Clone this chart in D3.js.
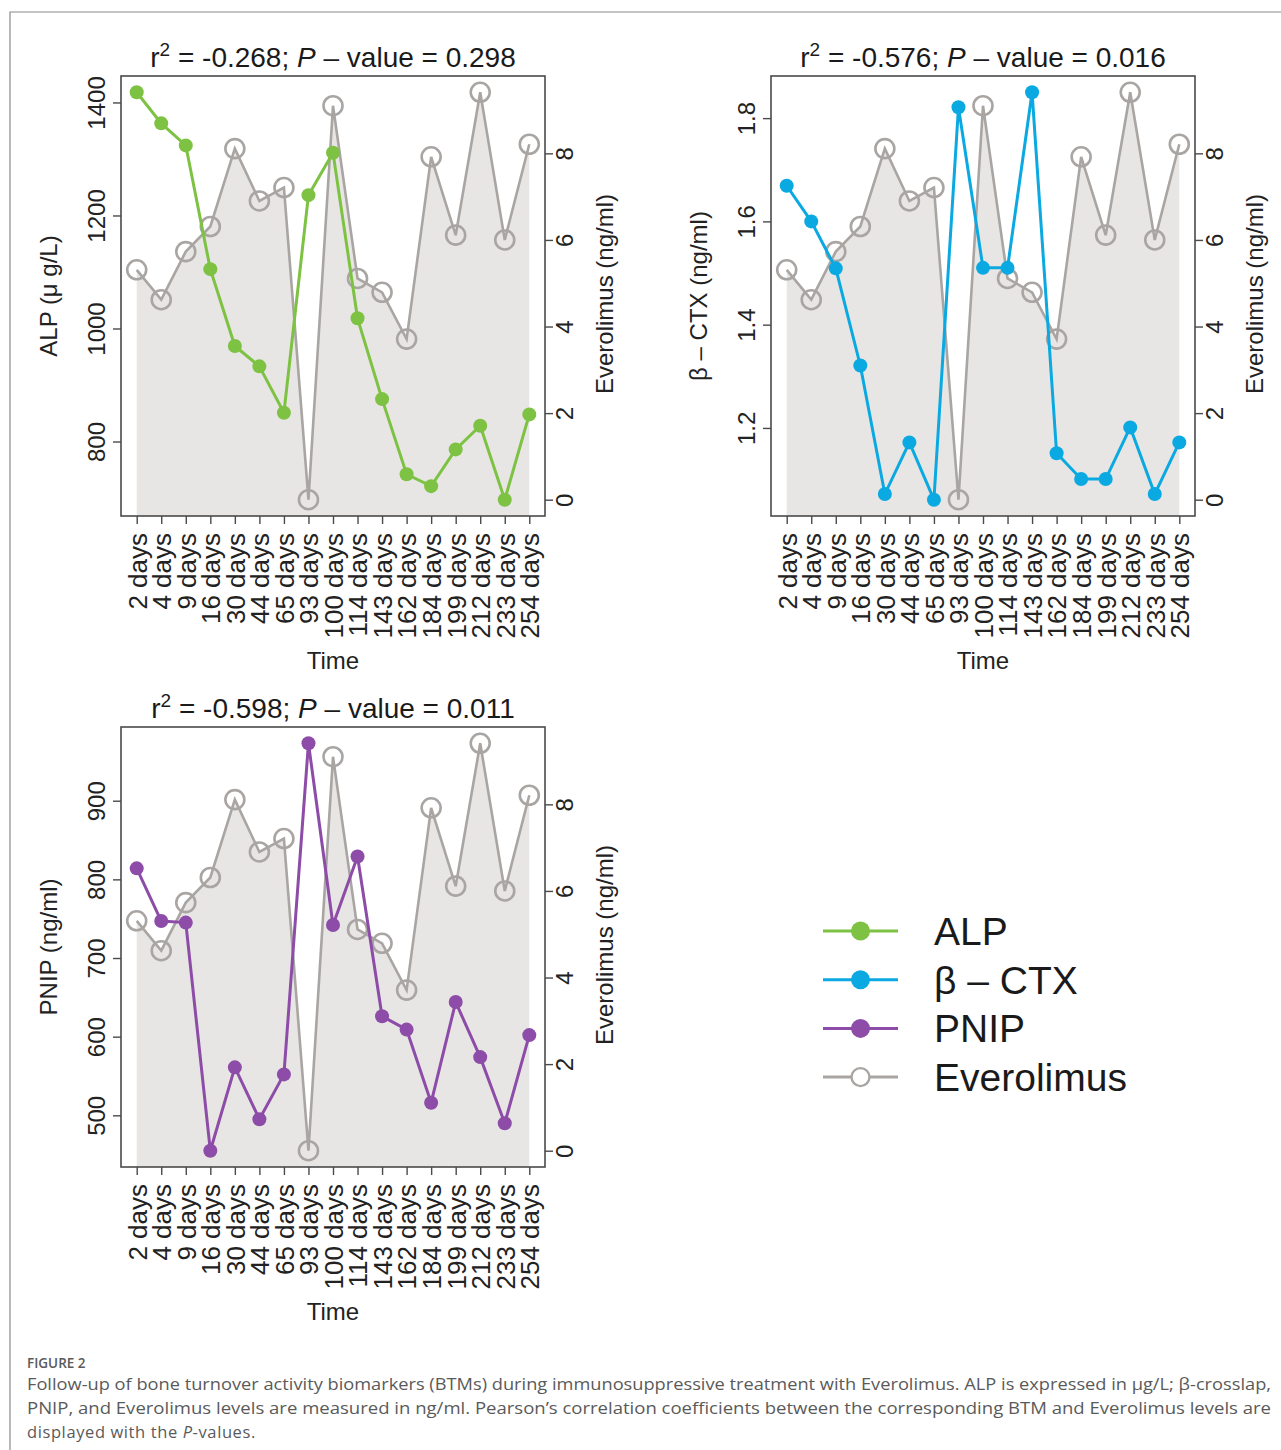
<!DOCTYPE html>
<html>
<head>
<meta charset="utf-8">
<script src="https://cdn.jsdelivr.net/npm/d3@7"></script>
<style>
  body { margin: 0; background: #fff; }
  text { font-family: "Liberation Sans", Arial, sans-serif; }
  .cap { font-family: "Open Sans", sans-serif; fill: #5a5a5a; }
</style>
</head>
<body>
<div id="chart"></div>
<script>
const days = ["2 days", "4 days", "9 days", "16 days", "30 days", "44 days", "65 days", "93 days", "100 days",
    "114 days", "143 days", "162 days", "184 days", "199 days", "212 days", "233 days", "254 days"]
const everolimus = [5.31, 4.62, 5.73, 6.31, 8.11, 6.90, 7.21, 0, 9.10, 5.11, 4.79, 3.71, 7.92, 6.11, 9.41, 6.00, 8.21]
const alp = [1418, 1363, 1324, 1105, 969, 933, 851, 1236, 1311, 1018, 875, 742, 721, 786, 828, 697, 848]
const ctx = [1.669, 1.600, 1.509, 1.321, 1.072, 1.172, 1.061, 1.821, 1.510, 1.510, 1.850, 1.151, 1.101, 1.101, 1.201, 1.072, 1.172]
const pnip = [814, 747, 745, 455, 561, 495, 552, 973, 742, 829, 626, 609, 516, 644, 574, 490, 602]
const everTicks = [0, 2, 4, 6, 8]

const panels = [
    { x: 121, y: 76, values: alp, color: "#7dc242", ticks: [800, 1000, 1200, 1400], fmt: d3.format("d"),
      label: ["ALP (", "μ", " g/L)"], r2: "-0.268", p: "0.298" },
    { x: 771, y: 76, values: ctx, color: "#0aa9e2", ticks: [1.2, 1.4, 1.6, 1.8], fmt: d3.format(".1f"),
      label: ["β – CTX (ng/ml)"], r2: "-0.576", p: "0.016" },
    { x: 121, y: 727, values: pnip, color: "#8c4ca7", ticks: [500, 600, 700, 800, 900], fmt: d3.format("d"),
      label: ["PNIP (ng/ml)"], r2: "-0.598", p: "0.011" }
]

const W = 1281, H = 1450
const boxW = 424, boxH = 440
const grey = "#a9a5a3", fillGrey = "#e8e6e4", axisCol = "#4a4a4a"

const svg = d3.select("#chart").append("svg").attr("width", W).attr("height", H)

// frame of the figure page
svg.append("path").attr("d", `M10,${H} V12 H${W}`).attr("fill", "none").attr("stroke", "#8a8a8a").attr("stroke-width", 1.2)

// R style range padding (4% each side)
const padded = (vals) => {
    let [lo, hi] = d3.extent(vals), p = (hi - lo) * 0.04
    return [lo - p, hi + p]
}

const drawPanel = (pn) => {
    const g = svg.append("g").attr("transform", `translate(${pn.x},${pn.y})`)

    const x = d3.scalePoint().domain(days).range([0, boxW]).padding(0.64)
    const yL = d3.scaleLinear().domain(padded(pn.values)).range([boxH, 0])
    const yR = d3.scaleLinear().domain(padded(everolimus)).range([boxH, 0])

    const pts = days.map((d, i) => ({ d, v: pn.values[i], e: everolimus[i] }))

    // grey area under everolimus
    g.append("path").datum(pts)
        .attr("fill", fillGrey)
        .attr("d", d3.area().x(d => x(d.d)).y0(boxH).y1(d => yR(d.e)))

    g.append("path").datum(pts)
        .attr("fill", "none").attr("stroke", grey).attr("stroke-width", 2.6)
        .attr("d", d3.line().x(d => x(d.d)).y(d => yR(d.e)))

    g.selectAll(".ever").data(pts).enter().append("circle")
        .attr("cx", d => x(d.d)).attr("cy", d => yR(d.e)).attr("r", 9.5)
        .attr("fill", "none").attr("stroke", grey).attr("stroke-width", 2.6)

    g.append("path").datum(pts)
        .attr("fill", "none").attr("stroke", pn.color).attr("stroke-width", 3)
        .attr("d", d3.line().x(d => x(d.d)).y(d => yL(d.v)))

    g.selectAll(".bm").data(pts).enter().append("circle")
        .attr("cx", d => x(d.d)).attr("cy", d => yL(d.v)).attr("r", 7)
        .attr("fill", pn.color)

    // box
    g.append("rect").attr("width", boxW).attr("height", boxH)
        .attr("fill", "none").attr("stroke", axisCol).attr("stroke-width", 1.6)

    // axes
    const ax = g.append("g").attr("transform", `translate(0,${boxH})`)
        .call(d3.axisBottom(x).tickSize(8).tickSizeOuter(0))

    const al = g.append("g")
        .call(d3.axisLeft(yL).tickValues(pn.ticks).tickFormat(pn.fmt).tickSize(8).tickSizeOuter(0))
    al.selectAll("text")
        .attr("x", 0).attr("dy", 0).attr("transform", "translate(-16,0) rotate(-90)")
        .style("text-anchor", "middle")

    const ar = g.append("g").attr("transform", `translate(${boxW},0)`)
        .call(d3.axisRight(yR).tickValues(everTicks).tickSize(8).tickSizeOuter(0))
    ar.selectAll("text")
        .attr("x", 0).attr("dy", 0).attr("transform", "translate(28,0) rotate(-90)")
        .style("text-anchor", "middle")

    g.selectAll(".domain").remove()
    g.selectAll(".tick line").attr("stroke", axisCol).attr("stroke-width", 1.4)
    g.selectAll(".tick text").attr("fill", "#222").style("font-size", "24px")

    ax.selectAll("text")
        .attr("transform", "rotate(-90)").attr("x", -17).attr("y", 0).attr("dy", "0.36em")
        .style("text-anchor", "end").style("font-size", "26px")

    // titles
    const t = g.append("text").attr("x", boxW / 2).attr("y", -9)
        .attr("text-anchor", "middle").style("font-size", "28px").attr("fill", "#1a1a1a")
    t.append("tspan").text("r")
    t.append("tspan").attr("dy", -11).style("font-size", "19px").text("2")
    t.append("tspan").attr("dy", 11).text(` = ${pn.r2}; `)
    t.append("tspan").style("font-style", "italic").text("P")
    t.append("tspan").text(` – value = ${pn.p}`)

    g.append("text").attr("x", boxW / 2).attr("y", boxH + 153)
        .attr("text-anchor", "middle").style("font-size", "24px").attr("fill", "#222").text("Time")

    const yl = g.append("text").attr("transform", `translate(-64,${boxH / 2}) rotate(-90)`)
        .attr("text-anchor", "middle").style("font-size", "24px").attr("fill", "#222")
    pn.label.forEach(s => yl.append("tspan").text(s))

    g.append("text").attr("transform", `translate(${boxW + 68},${boxH / 2 - 2}) rotate(-90)`)
        .attr("text-anchor", "middle").style("font-size", "24px").attr("fill", "#222")
        .text("Everolimus (ng/ml)")
}

panels.forEach(drawPanel)

// legend
const legendItems = [
    { name: "ALP", color: "#7dc242", open: false },
    { name: "β – CTX", color: "#0aa9e2", open: false },
    { name: "PNIP", color: "#8c4ca7", open: false },
    { name: "Everolimus", color: grey, open: true }
]
const lg = svg.append("g").attr("transform", "translate(823,931)")
const li = lg.selectAll("g").data(legendItems).enter().append("g")
    .attr("transform", (d, i) => `translate(0,${i * 48.7})`)
li.append("line").attr("x1", 0).attr("x2", 75).attr("stroke", d => d.color).attr("stroke-width", 3)
li.append("circle").attr("cx", 37.5).attr("r", d => d.open ? 9 : 9.5)
    .attr("fill", d => d.open ? "#fff" : d.color)
    .attr("stroke", d => d.open ? d.color : "none").attr("stroke-width", 2.4)
li.append("text").attr("x", 111).attr("dy", "0.36em").style("font-size", "39px").attr("fill", "#1a1a1a")
    .text(d => d.name)

// caption
svg.append("text").attr("class", "cap").attr("x", 27).attr("y", 1368)
    .style("font-size", "13.5px").style("font-weight", 600).text("FIGURE 2")
const capLines = [
    "Follow-up of bone turnover activity biomarkers (BTMs) during immunosuppressive treatment with Everolimus. ALP is expressed in μg/L; β-crosslap,",
    "PNIP, and Everolimus levels are measured in ng/ml. Pearson’s correlation coefficients between the corresponding BTM and Everolimus levels are"
]
capLines.forEach((s, i) => {
    svg.append("text").attr("class", "cap").attr("x", 27).attr("y", 1390 + i * 24)
        .style("font-size", "16.5px").attr("textLength", 1244).attr("lengthAdjust", "spacingAndGlyphs").text(s)
})
const c3 = svg.append("text").attr("class", "cap").attr("x", 27).attr("y", 1438)
    .style("font-size", "16.5px").style("letter-spacing", "0.6px")
c3.append("tspan").text("displayed with the ")
c3.append("tspan").style("font-style", "italic").text("P")
c3.append("tspan").text("-values.")
</script>
</body>
</html>
